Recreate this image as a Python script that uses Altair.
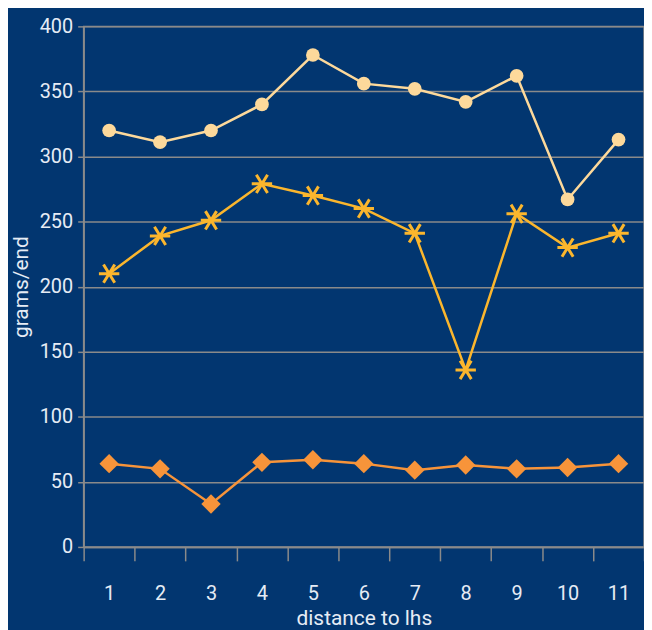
import altair as alt
import pandas as pd

distance = [1, 2, 3, 4, 5, 6, 7, 8, 9, 10, 11]
top_series = [320, 311, 320, 340, 378, 356, 352, 342, 362, 267, 313]
mid_series = [210, 239, 251, 279, 270, 260, 241, 136, 256, 230, 241]
low_series = [64, 60, 33, 65, 67, 64, 59, 63, 60, 61, 64]

BG = "#023670"
GRID = "#8a8a8a"
FONT = "Roboto"

def frame(vals):
    return pd.DataFrame({"d": distance, "v": vals})

x_enc = alt.X("d:O", title="distance to lhs",
              scale=alt.Scale(type="band", paddingInner=0, paddingOuter=0),
              axis=alt.Axis(labelAngle=0, tickBand="extent", tickSize=14,
                            labelPadding=23, titlePadding=4))
y_enc = alt.Y("v:Q", title="grams/end",
              scale=alt.Scale(domain=[0, 400], nice=False),
              axis=alt.Axis(values=[0, 50, 100, 150, 200, 250, 300, 350, 400],
                            tickSize=6, labelPadding=5, titlePadding=8))

def series(vals, color, shape, size, filled, stroke_w=0):
    base = alt.Chart(frame(vals)).encode(x=x_enc, y=y_enc)
    line = base.mark_line(color=color, strokeWidth=2.5)
    if filled:
        pts = base.mark_point(shape=shape, size=size, filled=True, color=color, opacity=1)
    else:
        pts = base.mark_point(shape=shape, size=size, filled=False, color=color,
                              strokeWidth=stroke_w, opacity=1)
    return line + pts

asterisk = "M-1,0L1,0M-0.55,-0.9L0.55,0.9M-0.55,0.9L0.55,-0.9"

chart = alt.layer(
    series(low_series, "#F7943A", "diamond", 380, True),
    series(mid_series, "#FBB62D", asterisk, 420, False, 3),
    series(top_series, "#FDD99B", "circle", 190, True),
).properties(
    width=563, height=523,
    background=BG,
    padding={"left": 76, "top": 17, "right": 0, "bottom": 82},
    autosize=alt.AutoSizeParams(type="none"),
).configure_view(
    stroke=GRID, strokeWidth=1.5
).configure_axis(
    labelFont=FONT, titleFont=FONT, labelColor="#e6ecf5", titleColor="#e6ecf5",
    labelFontSize=20, titleFontSize=21, titleFontWeight="normal",
    domainColor=GRID, tickColor=GRID, gridColor=GRID, domainWidth=1.5,
    tickWidth=1.5, gridWidth=1.5, gridOpacity=1, grid=True,
).configure_axisX(grid=False)

chart.save("out.html", embed_options={"renderer": "svg", "actions": False})
